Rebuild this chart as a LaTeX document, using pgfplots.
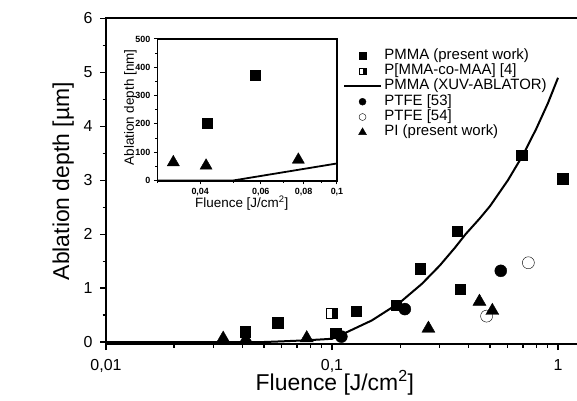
\documentclass[border=0pt]{standalone}
\usepackage{fontspec}
\setmainfont{Liberation Sans}
\usepackage{pgfplots}
\pgfplotsset{compat=1.18}
\usetikzlibrary{plotmarks}
\pgfdeclareplotmark{hsq}{%
  \pgfpathrectangle{\pgfqpoint{0pt}{-\pgfplotmarksize}}{\pgfqpoint{\pgfplotmarksize}{2\pgfplotmarksize}}%
  \pgfusepathqfill
  \pgfpathrectangle{\pgfqpoint{-\pgfplotmarksize}{-\pgfplotmarksize}}{\pgfqpoint{2\pgfplotmarksize}{2\pgfplotmarksize}}%
  \pgfusepathqstroke
}
\pgfplotsset{
  markleg/.style={legend image code/.code={\path (-0.35cm,0cm) (0.95cm,0cm);
      \draw[mark repeat=2,mark phase=2,##1] plot coordinates {(0cm,0cm) (0.3cm,0cm) (0.6cm,0cm)};}},
  lineleg/.style={legend image code/.code={\draw[##1] (-0.35cm,0cm) -- (0.95cm,0cm);}},
}
\begin{document}
\begin{tikzpicture}
\useasboundingbox (-106bp,-57bp) rectangle (471bp,344bp);
\begin{axis}[
  at={(0bp,0bp)}, anchor=south west, scale only axis,
  width=471bp, height=325.5bp,
  xmode=log, xmin=0.01, xmax=1.213,
  ymin=-0.037, ymax=6,
  axis line style={draw=none},
  clip=false,
  tick align=outside, tick pos=left,
  major tick length=6bp, minor tick length=3.5bp,
  tick style={black, line width=1.3bp},
  minor tick style={black, line width=1.1bp},
  xtick={0.01,0.1,1}, xticklabels={{0,01},{0,1},{1}},
  minor xtick={0.02,0.03,0.04,0.05,0.06,0.07,0.08,0.09,0.2,0.3,0.4,0.5,0.6,0.7,0.8,0.9},
  ytick={0,1,2,3,4,5,6}, minor ytick={0.5,1.5,2.5,3.5,4.5,5.5},
  ticklabel style={font=\fontsize{16}{18}\selectfont},
  xticklabel style={yshift=-6bp},
  yticklabel style={xshift=-4bp},
  /pgf/number format/assume math mode=true,
  xlabel={Fluence [J/cm\textsuperscript{2}]},
  ylabel={Ablation depth [µm]},
  label style={font=\fontsize{23}{26}\selectfont},
  xlabel style={at={(axis description cs:0.486,-0.12)}, anchor=center},
  ylabel style={at={(axis description cs:-0.091,0.5)}, anchor=center},
  legend style={at={(axis description cs:0.503,0.909)}, anchor=north west,
    draw=none, fill=none, inner sep=0pt, row sep=0.3bp, column sep=2bp,
    font=\fontsize{15}{15}\selectfont,
    nodes={inner sep=0.5bp, text height=10.5bp, text depth=3.5bp}},
  legend cell align=left,
]
\addplot[only marks, mark=square*, mark size=5.2bp, black, markleg,
  legend image post style={mark size=3.3bp}] coordinates {
  (0.0412,0.19) (0.0575,0.36) (0.104,0.16) (0.128,0.57) (0.192,0.68)
  (0.245,1.36) (0.358,2.06) (0.368,0.98) (0.690,3.46) (1.05,3.03)};
\addlegendentry{PMMA (present work)}
\addplot[only marks, mark=hsq, mark size=5.2bp, black,
  mark options={fill=black}, markleg,
  legend image post style={mark size=3.3bp}] coordinates {(0.0995,0.53)};
\addlegendentry{P[MMA-co-MAA] [4]}
\addplot[black, line width=2bp, lineleg] coordinates {
  (0.01,0) (0.05,0) (0.06,0.012) (0.07,0.024) (0.08,0.036) (0.09,0.048) (0.1,0.06)
  (0.112,0.15) (0.15,0.40) (0.2,0.735) (0.25,1.08) (0.3,1.42) (0.35,1.75) (0.39,2.0)
  (0.45,2.29) (0.5,2.52) (0.6,3.0) (0.7,3.47) (0.8,3.95) (0.9,4.42) (1.0,4.9)};
\addlegendentry{PMMA (XUV-ABLATOR)}
\addplot[only marks, mark=*, mark size=6bp, black, markleg,
  legend image post style={mark size=3.5bp}] coordinates {
  (0.110,0.10) (0.210,0.61) (0.558,1.32)};
\addlegendentry{PTFE [53]}
\addplot[only marks, mark=o, mark size=6bp, black, mark options={fill=white}, markleg,
  legend image post style={mark size=3.5bp}] coordinates {
  (0.483,0.48) (0.739,1.47)};
\addlegendentry{PTFE [54]}
\addplot[only marks, mark=triangle*, mark size=7.5bp, black, markleg,
  legend image post style={mark size=4.5bp}] coordinates {
  (0.0330,0.065) (0.0416,0.052) (0.0773,0.073) (0.267,0.25) (0.449,0.75) (0.512,0.58)};
\addlegendentry{PI (present work)}
\end{axis}
\draw[line width=2bp] (current axis.north east) -- (current axis.north west)
  -- (current axis.south west) -- (current axis.south east);
\begin{axis}[
  at={(51.3bp,163bp)}, anchor=south west, scale only axis,
  width=179.7bp, height=142bp,
  xmode=log, xmin=0.03, xmax=0.1,
  ymin=-2, ymax=500,
  axis background/.style={fill=white},
  axis line style={line width=1.4bp},
  tick align=outside, tick pos=left,
  major tick length=3.5bp, minor tick length=2bp,
  tick style={black, line width=1bp},
  minor tick style={black, line width=0.8bp},
  xtick={0.04,0.06,0.08,0.1}, xticklabels={{0,04},{0,06},{0,08},{0,1}},
  minor xtick={0.03,0.05,0.07,0.09},
  ytick={0,100,200,300,400,500}, minor ytick={50,150,250,350,450},
  ticklabel style={font=\fontsize{9}{10}\selectfont\bfseries},
  /pgf/number format/assume math mode=true,
  xlabel={Fluence [J/cm\textsuperscript{2}]},
  ylabel={Ablation depth [nm]},
  label style={font=\fontsize{13.5}{15}\selectfont},
  xlabel style={at={(axis description cs:0.47,-0.155)}, anchor=center},
  ylabel style={at={(axis description cs:-0.150,0.518)}, anchor=center},
]
\addplot[only marks, mark=square*, mark size=5bp, black] coordinates {
  (0.042,203) (0.058,371)};
\addplot[black, line width=1.8bp] coordinates {(0.03,0) (0.05,0) (0.1,60)};
\addplot[only marks, mark=triangle*, mark size=7bp, black] coordinates {
  (0.0334,64) (0.0416,52) (0.0772,73)};
\end{axis}
\end{tikzpicture}
\end{document}
